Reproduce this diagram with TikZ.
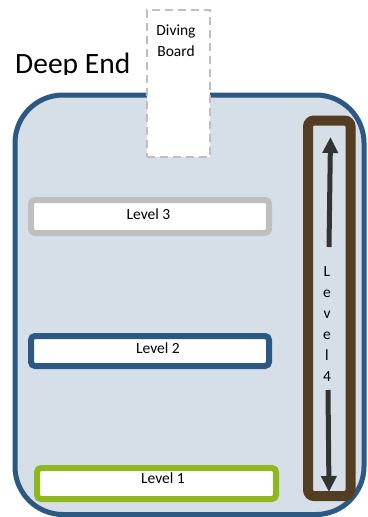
\documentclass[tikz,border=0pt]{standalone}
\usepackage{fontspec}
\setmainfont{Carlito}
\usetikzlibrary{arrows.meta}
\definecolor{poolfill}{RGB}{214,223,232}
\definecolor{poolblue}{RGB}{44,88,132}
\definecolor{lvgray}{RGB}{191,191,191}
\definecolor{lvgreen}{RGB}{143,183,30}
\definecolor{lvbrown}{RGB}{84,62,35}
\definecolor{arrowgray}{RGB}{51,51,51}
\begin{document}
\begin{tikzpicture}[x=1pt,y=-1pt,
  lvbox/.style={draw, fill=white, line width=6pt, rounded corners=4pt, minimum width=238pt, minimum height=33pt, inner sep=0pt},
  small/.style={font=\fontsize{15.5}{21}\selectfont, inner sep=0pt},
  arr/.style={draw=arrowgray, line width=5pt, -{Triangle[width=15pt,length=16pt]}}]
\useasboundingbox (0,0) rectangle (367,517);
% pool
\node[draw=poolblue, fill=poolfill, line width=5pt, rounded corners=48pt,
      minimum width=349pt, minimum height=419.5pt, inner sep=0pt] (pool) at (189.5,304.75) {};
% level 4 lane
\node[draw=lvbrown, fill=poolfill, line width=10pt, rounded corners=6pt,
      minimum width=42.5pt, minimum height=375.5pt, inner sep=0pt] (l4) at (329.25,308.25) {};
\coordinate (ua) at (329,247);
\coordinate (ub) at (330.5,137);
\coordinate (da) at (328,390);
\coordinate (db) at (329,492);
\draw[arr] (ua) -- (ub);
\draw[arr] (da) -- (db);
\node[small, align=center] (t4) at (327,324.5) {L\\e\\v\\e\\l\\4};
% diving board
\node[draw=lvgray, fill=white, line width=2.5pt, dash pattern=on 8pt off 5pt,
      minimum width=63pt, minimum height=147pt, inner sep=0pt] (board) at (178.5,83.5) {};
\node[small, align=center] (tb) at (176,41) {Diving\\Board};
% deep end
\begin{scope}
  \clip (0,0) rectangle (140,74.5);
  \node[anchor=base west, font=\fontsize{29.5}{32}\selectfont, inner sep=0pt] (deep) at (15,73) {Deep End};
\end{scope}
% levels
\node[lvbox, draw=lvgray] (l3) at (150,216.5) {};
\node[small, anchor=base] (t3) at (148.5,219) {Level 3};
\node[lvbox, draw=poolblue, minimum height=30pt] (l2) at (150,351) {};
\node[small, anchor=base] (t2) at (158,353) {Level 2};
\node[lvbox, draw=lvgreen, minimum width=239pt, minimum height=31pt] (l1) at (156.5,483.5) {};
\node[small, anchor=base] (t1) at (163,483) {Level 1};
\end{tikzpicture}
\end{document}
